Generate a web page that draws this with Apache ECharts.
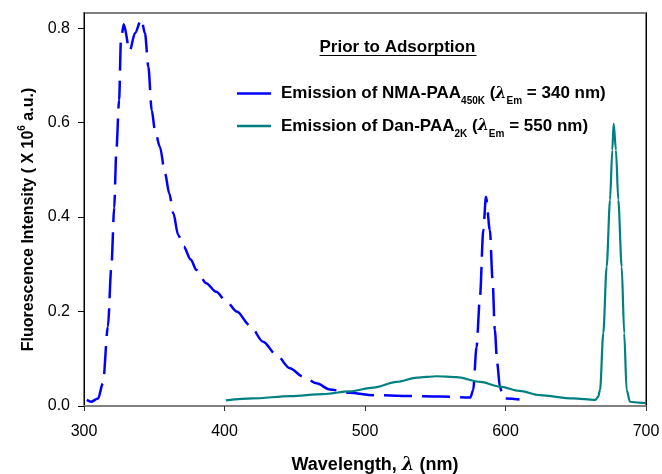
<!DOCTYPE html>
<html>
<head>
<meta charset="utf-8">
<script src="https://cdn.jsdelivr.net/npm/echarts@6/dist/echarts.min.js"></script>
<style>
  html, body { margin: 0; padding: 0; background: #fff; }
  #chart { width: 662px; height: 474px; }
</style>
</head>
<body>
<div id="chart"></div>
<script>
// NMA-PAA emission (dashed blue)
var nmaWave = [302, 305, 310, 313.5, 317, 319.5, 321.5, 323, 325, 326.3, 328.3, 332.5, 336.3, 340.8, 343.4, 345.8, 348.2, 350.5, 354, 357.7, 360.7, 363.6, 367, 371, 376, 380, 387, 394, 401.5, 408.7, 418, 427.5, 437, 446.5, 456, 465.5, 475, 489, 506, 530, 553, 575, 577, 579.4, 581.8, 584.2, 586.1, 588.9, 590.8, 592.4, 594.1, 596, 598.4, 610];
var nmaValue = [0.013, 0.009, 0.016, 0.048, 0.168, 0.295, 0.42, 0.54, 0.648, 0.775, 0.808, 0.752, 0.789, 0.819, 0.789, 0.718, 0.626, 0.584, 0.549, 0.492, 0.45, 0.408, 0.362, 0.337, 0.31, 0.288, 0.26, 0.242, 0.221, 0.2, 0.171, 0.136, 0.108, 0.08, 0.062, 0.048, 0.035, 0.028, 0.023, 0.021, 0.02, 0.018, 0.034, 0.125, 0.23, 0.372, 0.443, 0.372, 0.267, 0.161, 0.09, 0.041, 0.016, 0.014];

// Dan-PAA emission (solid teal)
var danWave = [401, 420, 447, 470, 489, 506, 522.5, 537, 551, 565, 582, 596, 610, 624.4, 648, 664, 666, 667.3, 669.6, 672, 674.4, 676, 677, 678.6, 680.3, 682.7, 684.5, 686.2, 688.6, 695, 700];
var danValue = [0.012, 0.016, 0.021, 0.025, 0.031, 0.039, 0.051, 0.06, 0.063, 0.061, 0.051, 0.041, 0.032, 0.023, 0.016, 0.013, 0.02, 0.034, 0.154, 0.295, 0.436, 0.542, 0.598, 0.542, 0.436, 0.295, 0.154, 0.034, 0.009, 0.007, 0.006];

var yTicks = [0, 0.2, 0.4, 0.6, 0.8];
var xTicks = [300, 400, 500, 600, 700];

var seriesNames = ['NMA', 'DAN'];
var legendText = {
  NMA: '{a|Emission of NMA-PAA}{s|450K}{a| (}{l|λ}{s|Em}{a| = 340 nm)}',
  DAN: '{a|Emission of Dan-PAA}{s|2K}{a| (}{l|λ}{s|Em}{a| = 550 nm)}'
};

function pairs(xs, ys) {
  return xs.map(function (x, i) { return [x, ys[i]]; });
}

var FONT = '"Liberation Sans", Arial, sans-serif';
var chart = echarts.init(document.getElementById('chart'));

chart.setOption({
  animation: false,
  backgroundColor: '#fff',
  textStyle: { fontFamily: FONT },
  grid: {
    left: 84, right: 16, top: 13, bottom: 68,
    outerBoundsMode: 'none',
    containLabel: false,
    show: true,
    borderColor: '#808080',
    borderWidth: 2
  },
  graphic: [{
    type: 'group',
    left: 317,
    top: 39,
    children: [{
      type: 'text',
      left: 0, top: 0,
      style: { text: 'Prior to Adsorption', font: 'bold 17px ' + FONT, fill: '#000' }
    }, {
      type: 'line',
      shape: { x1: 0, y1: 16.5, x2: 157, y2: 16.5 },
      style: { stroke: '#000', lineWidth: 1 }
    }]
  }],
  legend: {
    orient: 'vertical',
    left: 232,
    top: 80,
    icon: 'rect',
    itemWidth: 34,
    itemHeight: 2.5,
    itemGap: 11,
    data: seriesNames,
    formatter: function (name) { return legendText[name]; },
    textStyle: {
      padding: [0, 0, 0, 5],
      rich: {
        a: { fontFamily: FONT, fontWeight: 'bold', fontSize: 17, lineHeight: 26, color: '#000' },
        l: { fontFamily: '"DejaVu Serif", serif', fontStyle: 'italic', fontWeight: 'bold', fontSize: 16, lineHeight: 26, color: '#000' },
        s: { fontFamily: FONT, fontWeight: 'bold', fontSize: 10, lineHeight: 10, verticalAlign: 'bottom', color: '#000' }
      }
    }
  },
  xAxis: {
    type: 'value',
    min: 300,
    max: 700,
    interval: 100,
    name: '{a|Wavelength, }{l|λ}{a| (nm)}',
    nameLocation: 'middle',
    nameGap: 50,
    nameTextStyle: {
      padding: [0, 0, 0, 20],
      rich: {
        a: { fontFamily: FONT, fontWeight: 'bold', fontSize: 18, color: '#000' },
        l: { fontFamily: '"DejaVu Serif", serif', fontStyle: 'italic', fontWeight: 'bold', fontSize: 18, color: '#000' }
      }
    },
    axisLine: { lineStyle: { color: '#808080', width: 2 } },
    axisTick: { length: 5, lineStyle: { color: '#333', width: 1 }, customValues: xTicks },
    axisLabel: { fontSize: 16, color: '#000', margin: 18, customValues: xTicks },
    splitLine: { show: false }
  },
  yAxis: [{
    type: 'value',
    min: 0,
    max: 0.832,
    interval: 0.2,
    name: '{a|Fluorescence Intensity ( X 10}{p|6}{a| a.u.)}',
    nameLocation: 'middle',
    nameGap: 41,
    nameTextStyle: {
      padding: [0, 20, 0, 0],
      rich: {
        a: { fontFamily: FONT, fontWeight: 'bold', fontSize: 16, lineHeight: 24, color: '#000' },
        p: { fontFamily: FONT, fontWeight: 'bold', fontSize: 10, lineHeight: 10, verticalAlign: 'top', color: '#000' }
      }
    },
    axisLine: { show: true, lineStyle: { color: '#000', width: 1 } },
    axisTick: { show: true, length: 6, lineStyle: { color: '#000' }, customValues: yTicks },
    axisLabel: {
      fontSize: 16, color: '#000', margin: 14,
      customValues: yTicks,
      formatter: function (v) { return v.toFixed(1); }
    },
    splitLine: { show: false }
  }, {
    type: 'value',
    position: 'right',
    min: 0,
    max: 0.832,
    axisLine: { show: true, lineStyle: { color: '#000', width: 1 } },
    axisTick: { show: false },
    axisLabel: { show: false },
    splitLine: { show: false }
  }],
  series: [{
    name: 'NMA',
    type: 'line',
    data: pairs(nmaWave, nmaValue),
    symbol: 'none',
    smooth: 0.3,
    smoothMonotone: 'x',
    lineStyle: { color: '#0000ff', width: 2.5, type: [28, 10] },
    itemStyle: { color: '#0000ff' }
  }, {
    name: 'DAN',
    type: 'line',
    data: pairs(danWave, danValue),
    symbol: 'none',
    smooth: 0.3,
    smoothMonotone: 'x',
    lineStyle: { color: '#008080', width: 2.2 },
    itemStyle: { color: '#008080' }
  }]
});
</script>
</body>
</html>
